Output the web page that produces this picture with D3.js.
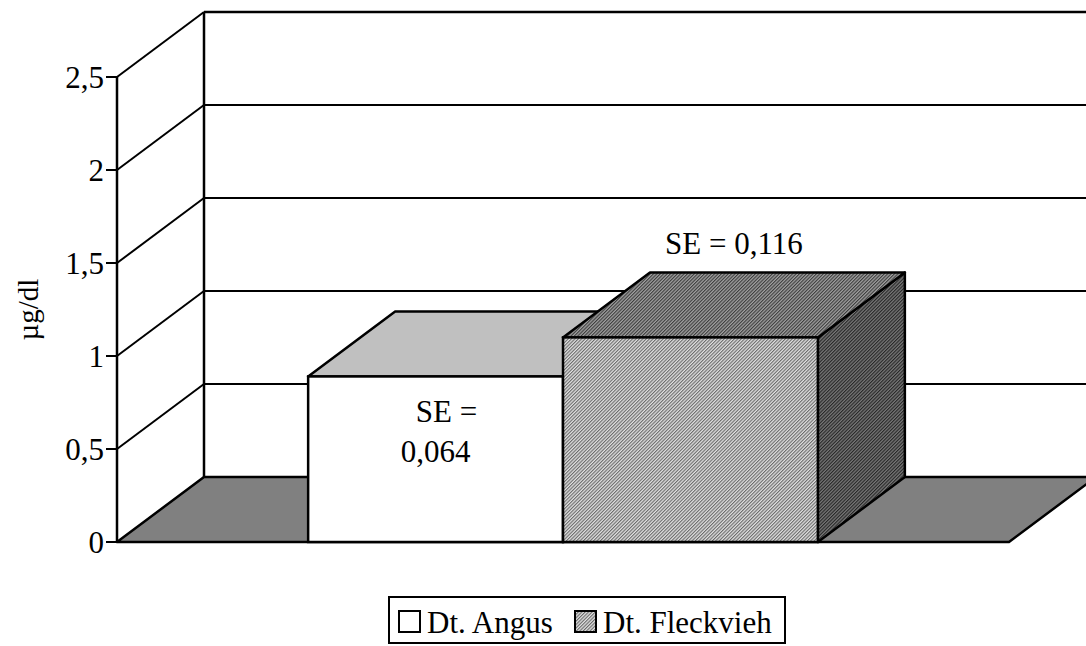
<!DOCTYPE html>
<html>
<head>
<meta charset="utf-8">
<script src="https://cdn.jsdelivr.net/npm/d3@7"></script>
<style>
  body { margin: 0; background: #fff; }
  text { font-family: "Liberation Serif", "Times New Roman", serif; fill: #000; }
</style>
</head>
<body>
<svg id="chart" width="1086" height="646"></svg>
<script>
// donnees
var series = ["Dt. Angus", "Dt. Fleckvieh"];
var values = [0.89, 1.10];
var seLabels = [["SE =", "0,064"], ["SE = 0,116"]];
var yTicks = [0, 0.5, 1, 1.5, 2, 2.5];
var yTickLabels = ["0", "0,5", "1", "1,5", "2", "2,5"];
var yTitle = "µg/dl";

var svg = d3.select("#chart");
var depthX = 87, depthY = -65;   // decalage de la profondeur 3D
var x0 = 117, x1 = 1009;

var y = d3.scaleLinear().domain([0, 2.5]).range([542, 77]);
var x = d3.scaleBand().domain(series).range([x0, x1]).paddingInner(0).paddingOuter(0.75);

// motifs hachures
var defs = svg.append("defs");
function hatch(id, bg, fg) {
  var p = defs.append("pattern").attr("id", id).attr("patternUnits", "userSpaceOnUse")
    .attr("width", 2.4).attr("height", 2.4).attr("patternTransform", "rotate(45)");
  p.append("rect").attr("width", 2.4).attr("height", 2.4).attr("fill", bg);
  p.append("rect").attr("width", 1.1).attr("height", 2.4).attr("fill", fg);
}
hatch("hFront", "#e0e0e0", "#6a6a6a");
hatch("hTop", "#a0a0a0", "#3c3c3c");
hatch("hSide", "#777777", "#262626");

var fills = [
  { front: "#ffffff", top: "#c0c0c0", side: "#a0a0a0" },
  { front: "url(#hFront)", top: "url(#hTop)", side: "url(#hSide)" }
];

function pts(a) { return a.map(function(p) { return p.join(","); }).join(" "); }

// mur du fond
svg.append("rect")
  .attr("x", x0 + depthX).attr("y", y(2.5) + depthY)
  .attr("width", x1 - x0).attr("height", y(0) - y(2.5))
  .attr("fill", "#fff");

// grille sur le mur du fond + mur gauche
yTicks.forEach(function(t) {
  if (t === 0) return;
  svg.append("line")
    .attr("x1", x0 + depthX).attr("x2", x1 + depthX)
    .attr("y1", y(t) + depthY).attr("y2", y(t) + depthY)
    .attr("stroke", "#000").attr("stroke-width", t === 2.5 ? 2.5 : 2);
  svg.append("line")
    .attr("x1", x0).attr("x2", x0 + depthX)
    .attr("y1", y(t)).attr("y2", y(t) + depthY)
    .attr("stroke", "#000").attr("stroke-width", 2);
});
svg.append("line")
  .attr("x1", x0 + depthX).attr("x2", x0 + depthX)
  .attr("y1", y(2.5) + depthY).attr("y2", y(0) + depthY)
  .attr("stroke", "#000").attr("stroke-width", 2.5);

// sol
svg.append("polygon")
  .attr("points", pts([[x0, y(0)], [x1, y(0)], [x1 + depthX, y(0) + depthY], [x0 + depthX, y(0) + depthY]]))
  .attr("fill", "#808080").attr("stroke", "#000").attr("stroke-width", 2.5)
  .attr("stroke-linejoin", "round");

// axe Y
svg.append("line")
  .attr("x1", x0).attr("x2", x0).attr("y1", y(2.5)).attr("y2", y(0))
  .attr("stroke", "#000").attr("stroke-width", 2.5);
var ticks = svg.append("g").selectAll("g").data(yTicks).enter().append("g")
  .attr("transform", function(d) { return "translate(0," + y(d) + ")"; });
ticks.append("line").attr("x1", x0 - 11).attr("x2", x0).attr("stroke", "#000").attr("stroke-width", 2);
ticks.append("text")
  .attr("x", x0 - 13).attr("dy", "0.34em")
  .attr("text-anchor", "end").attr("font-size", 31)
  .text(function(d, i) { return yTickLabels[i]; });

svg.append("text")
  .attr("transform", "translate(38," + ((y(0) + y(2.5)) / 2) + ") rotate(-90)")
  .attr("text-anchor", "middle").attr("font-size", 29)
  .text(yTitle);

// barres 3D
series.forEach(function(s, i) {
  var bx = x(s), bw = x.bandwidth(), by = y(values[i]), b0 = y(0);
  var g = svg.append("g");
  g.append("polygon") // cote
    .attr("points", pts([[bx + bw, by], [bx + bw + depthX, by + depthY], [bx + bw + depthX, b0 + depthY], [bx + bw, b0]]))
    .attr("fill", fills[i].side).attr("stroke", "#000").attr("stroke-width", 2.5).attr("stroke-linejoin", "round");
  g.append("polygon") // dessus
    .attr("points", pts([[bx, by], [bx + bw, by], [bx + bw + depthX, by + depthY], [bx + depthX, by + depthY]]))
    .attr("fill", fills[i].top).attr("stroke", "#000").attr("stroke-width", 2.5).attr("stroke-linejoin", "round");
  g.append("rect") // face
    .attr("x", bx).attr("y", by).attr("width", bw).attr("height", b0 - by)
    .attr("fill", fills[i].front).attr("stroke", "#000").attr("stroke-width", 2.5);
});

// etiquettes SE
var xa = x(series[0]) + x.bandwidth() / 2;
svg.append("text").attr("x", xa + 11).attr("y", y(values[0]) + 46)
  .attr("text-anchor", "middle").attr("font-size", 31).text(seLabels[0][0]);
svg.append("text").attr("x", xa).attr("y", y(values[0]) + 86)
  .attr("text-anchor", "middle").attr("font-size", 31).text(seLabels[0][1]);
var xb = x(series[1]) + x.bandwidth() / 2 + depthX / 2;
svg.append("text").attr("x", xb).attr("y", y(values[1]) + depthY - 18)
  .attr("text-anchor", "middle").attr("font-size", 31).text(seLabels[1][0]);

// legende
var leg = svg.append("g").attr("transform", "translate(389,597)");
leg.append("rect").attr("width", 396).attr("height", 46)
  .attr("fill", "#fff").attr("stroke", "#000").attr("stroke-width", 2);
var legX = [10, 186];
series.forEach(function(s, i) {
  leg.append("rect").attr("x", legX[i]).attr("y", 14).attr("width", 21).attr("height", 21)
    .attr("fill", fills[i].front).attr("stroke", "#000").attr("stroke-width", 2);
  leg.append("text").attr("x", legX[i] + 28).attr("y", 36).attr("font-size", 31).text(s);
});
</script>
</body>
</html>
